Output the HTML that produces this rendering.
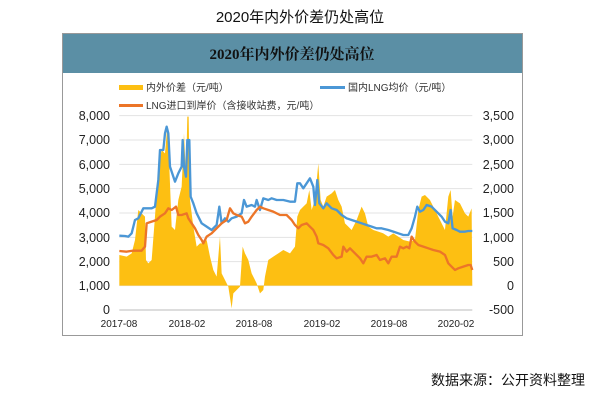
<!DOCTYPE html>
<html><head><meta charset="utf-8"><style>
body{margin:0;background:#fff;width:600px;height:403px;overflow:hidden;font-family:"Liberation Sans","Noto Sans CJK SC",sans-serif;}
</style></head><body>
<svg width="600" height="403" xmlns="http://www.w3.org/2000/svg" style="position:absolute;left:0;top:0">
<text x="300" y="22" text-anchor="middle" font-size="15" font-family="Liberation Sans,Noto Sans CJK SC,sans-serif" fill="#111">2020年内外价差仍处高位</text>
<rect x="62.5" y="33.5" width="460" height="302" fill="#fff" stroke="#999"/>
<rect x="63" y="34" width="459" height="39" fill="#5b8fa5"/>
<text x="292" y="59" text-anchor="middle" font-size="15" font-weight="bold" font-family="Liberation Serif,Noto Serif CJK SC,serif" fill="#111">2020年内外价差仍处高位</text>
<rect x="119" y="85" width="24" height="5" fill="#fdbf12"/>
<text x="146" y="91" font-size="10" fill="#333" font-family="Liberation Sans,Noto Sans CJK SC,sans-serif">内外价差（元/吨）</text>
<rect x="320" y="86" width="25" height="3" fill="#4b97d6"/>
<text x="348" y="91" font-size="10" fill="#333" font-family="Liberation Sans,Noto Sans CJK SC,sans-serif">国内LNG均价（元/吨）</text>
<rect x="119" y="104" width="24" height="3" fill="#ec7528"/>
<text x="146" y="109" font-size="10" fill="#333" font-family="Liberation Sans,Noto Sans CJK SC,sans-serif">LNG进口到岸价（含接收站费，元/吨）</text>
<g font-size="12.5" fill="#222" font-family="Liberation Sans,sans-serif">
<g text-anchor="end">
<text x="110" y="120">8,000</text><text x="110" y="144">7,000</text><text x="110" y="169">6,000</text><text x="110" y="193">5,000</text><text x="110" y="217">4,000</text><text x="110" y="242">3,000</text><text x="110" y="266">2,000</text><text x="110" y="290">1,000</text><text x="110" y="314">0</text>
</g>
<g text-anchor="end">
<text x="514" y="120">3,500</text><text x="514" y="144">3,000</text><text x="514" y="169">2,500</text><text x="514" y="193">2,000</text><text x="514" y="217">1,500</text><text x="514" y="242">1,000</text><text x="514" y="266">500</text><text x="514" y="290">0</text><text x="514" y="314">-500</text>
</g>
</g>
<g font-size="10" fill="#222" text-anchor="middle" font-family="Liberation Sans,sans-serif">
<text x="119" y="327">2017-08</text><text x="187" y="327">2018-02</text><text x="254" y="327">2018-08</text><text x="322" y="327">2019-02</text><text x="389" y="327">2019-08</text><text x="456" y="327">2020-02</text>
</g>
<g transform="translate(60,100) scale(0.3333)">
<g stroke="#e3e3e3" stroke-width="3">
<line x1="178" x2="1237" y1="47" y2="47"/><line x1="178" x2="1237" y1="120" y2="120"/><line x1="178" x2="1237" y1="193" y2="193"/><line x1="178" x2="1237" y1="266" y2="266"/><line x1="178" x2="1237" y1="339" y2="339"/><line x1="178" x2="1237" y1="412" y2="412"/><line x1="178" x2="1237" y1="485" y2="485"/><line x1="178" x2="1237" y1="557" y2="557"/>
</g>
<line x1="178" x2="1237" y1="630" y2="630" stroke="#bbb" stroke-width="3"/>
<polygon fill="#fdbf12" points="178,557 178,465 200,470 215,460 225,420 235,330 245,340 255,350 258,480 265,490 275,480 285,350 295,200 305,150 315,160 322,80 328,200 335,380 345,390 355,300 365,260 372,100 378,230 382,50 386,50 390,300 400,380 410,440 420,430 430,430 440,420 450,470 460,510 470,530 480,410 485,520 495,540 505,560 515,625 520,580 530,570 540,560 548,440 555,460 565,480 575,520 590,550 600,580 610,570 615,530 625,480 640,470 655,460 670,450 690,460 705,440 712,350 720,330 730,320 740,310 748,270 755,330 765,300 775,190 782,300 790,320 800,290 815,280 825,270 835,300 845,320 855,370 865,380 875,390 890,360 905,320 915,340 925,380 940,390 955,395 970,400 985,410 1000,400 1015,410 1030,420 1050,425 1065,420 1075,330 1085,290 1095,285 1110,300 1125,330 1140,360 1155,390 1165,290 1172,270 1178,350 1185,300 1200,310 1215,340 1225,350 1235,325 1237,557"/>
<polyline fill="none" stroke="#4b97d6" stroke-width="7" stroke-linejoin="round" points="178,407 195,408 205,410 215,400 225,360 235,355 250,325 260,325 275,325 285,320 295,240 300,150 310,150 315,100 320,80 325,100 330,200 340,230 345,245 355,220 365,200 368,120 372,200 378,230 382,120 388,120 392,290 400,310 410,340 425,370 440,380 455,390 470,375 478,320 485,370 495,355 505,365 515,355 530,350 545,340 552,300 560,320 575,315 585,320 590,300 600,330 610,295 625,300 635,295 650,300 670,300 690,305 705,305 712,250 720,250 730,265 740,250 750,235 760,260 765,315 772,240 778,310 790,325 800,310 815,325 830,330 845,345 860,355 875,360 890,365 905,370 920,375 935,380 950,385 965,385 985,390 1000,395 1015,400 1030,405 1045,405 1055,385 1065,350 1072,320 1080,335 1090,330 1100,315 1115,320 1130,335 1145,350 1155,365 1165,370 1172,330 1178,385 1190,390 1200,395 1215,395 1225,393 1237,393"/>
<polyline fill="none" stroke="#ec7528" stroke-width="7" stroke-linejoin="round" points="178,453 200,455 220,452 245,452 255,440 260,370 275,365 290,360 300,350 315,340 325,325 335,330 348,320 355,345 365,345 380,340 385,355 395,370 405,385 415,405 425,420 430,430 440,410 455,400 470,385 485,370 500,360 510,325 520,340 530,345 545,350 555,370 565,365 575,350 590,330 600,320 610,325 625,330 640,335 660,345 680,345 695,360 705,375 715,385 725,375 740,370 750,380 760,390 770,410 775,430 790,435 805,445 820,465 830,475 845,470 850,440 860,455 870,445 885,460 900,475 910,490 920,470 935,470 950,465 960,480 975,475 985,490 995,470 1010,470 1020,440 1030,445 1040,440 1048,445 1055,410 1065,425 1075,435 1090,440 1105,445 1120,450 1140,455 1155,465 1165,490 1175,500 1185,510 1195,505 1210,500 1225,495 1232,495 1237,510"/>
</g>
<text x="585" y="385" text-anchor="end" font-size="14" fill="#111" font-family="Liberation Sans,Noto Sans CJK SC,sans-serif">数据来源：公开资料整理</text>
</svg>
</body></html>
